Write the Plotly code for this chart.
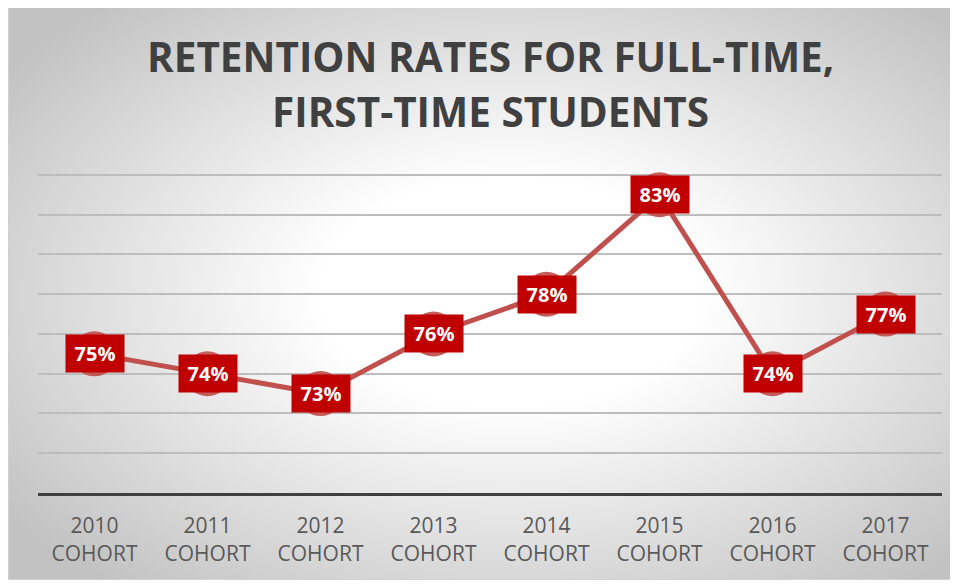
import base64
import plotly.graph_objects as go

# ---- data ----
years = [2010, 2011, 2012, 2013, 2014, 2015, 2016, 2017]
rates = [75, 74, 73, 76, 78, 83, 74, 77]
categories = [f"{y} COHORT" for y in years]
tick_labels = [f"{y}<br>COHORT" for y in years]
title_lines = ["RETENTION RATES FOR FULL-TIME,", "FIRST-TIME STUDENTS"]
y_min, y_max, y_step = 68, 84.5, 2

# page body has an 8px margin: work in reference pixels minus offset
OFF = 8
W, H = 958 - OFF, 584 - OFF
px_per_unit = (493 - 175) / 16.0
top_px = 175 - (y_max - 84) * px_per_unit
L = 38 - OFF
R = W - (942 - OFF)
T = int(round(top_px - OFF))
B = H - (493 - OFF)
pw, ph = W - L - R, H - T - B

def px2paper_x(px):
    return (px - OFF - L) / pw

def py2paper_y(py):
    return (H - B - (py - OFF)) / ph

# background box (radial gradient), reference pixel coords
bx0, by0, bx1, by1 = 8, 5, 955, 580
svg = f"""<svg xmlns='http://www.w3.org/2000/svg' width='{bx1-bx0}' height='{by1-by0}' viewBox='0 0 {bx1-bx0} {by1-by0}'>
<defs><radialGradient id='g' cx='0.53' cy='0.5' r='0.66' fx='0.53' fy='0.5'>
<stop offset='0' stop-color='#ffffff'/>
<stop offset='0.3' stop-color='#ffffff'/>
<stop offset='1' stop-color='#c2c2c2'/>
</radialGradient></defs>
<rect x='0.5' y='0.5' width='{bx1-bx0-1}' height='{by1-by0-1}' fill='url(#g)' stroke='#d0d0d0' stroke-width='1'/>
</svg>"""
src = "data:image/svg+xml;base64," + base64.b64encode(svg.encode()).decode()

fig = go.Figure()
fig.add_trace(go.Scatter(
    x=categories, y=rates, mode="lines+markers",
    line=dict(color="#C0504D", width=5),
    marker=dict(size=45, color="rgba(192,80,77,0.92)", line=dict(width=0)),
    hoverinfo="skip", showlegend=False,
))

for c, v in zip(categories, rates):
    fig.add_annotation(
        x=c, y=v, xref="x", yref="y", text=f"<b>{v}%</b>", showarrow=False,
        font=dict(family="Open Sans", size=20, color="white"),
        bgcolor="#C00000", width=52, height=31, borderpad=3,
        xanchor="center", yanchor="middle",
    )

# title lines (reference cap-centre y positions)
for line, yc in zip(title_lines, [56, 112]):
    fig.add_annotation(
        x=0.5, xref="paper", y=py2paper_y(yc), yref="paper",
        text=f"<b>{line}</b>", showarrow=False,
        font=dict(family="Open Sans", size=40.5, color="#404040"),
        xanchor="center", yanchor="middle",
    )

fig.add_layout_image(dict(
    source=src, xref="paper", yref="paper",
    x=px2paper_x(bx0), y=py2paper_y(by0),
    sizex=(bx1 - bx0) / pw, sizey=(by1 - by0) / ph,
    xanchor="left", yanchor="top", sizing="stretch", layer="below",
))

fig.update_layout(
    width=W, height=H,
    margin=dict(l=L, r=R, t=T, b=B),
    paper_bgcolor="white", plot_bgcolor="rgba(0,0,0,0)",
    xaxis=dict(
        type="category", range=[-0.5, 7.5], tickvals=categories, ticktext=tick_labels,
        showgrid=False, showline=True, linecolor="#404040", linewidth=3,
        ticks="", ticklabelstandoff=12,
        tickfont=dict(family="Open Sans", size=21, color="#595959"),
        fixedrange=True,
    ),
    yaxis=dict(
        range=[y_min, y_max], tickmode="linear", tick0=y_min, dtick=y_step,
        showgrid=True, gridcolor="#bdbdbd", gridwidth=1.5,
        showticklabels=False, zeroline=False, showline=False, fixedrange=True,
    ),
    font=dict(family="Open Sans"),
)

fig.write_html("out.html")
